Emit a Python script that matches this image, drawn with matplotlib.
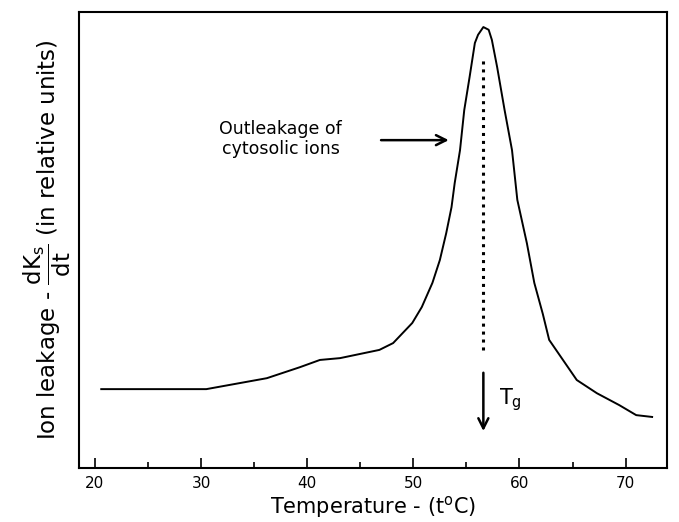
import matplotlib
matplotlib.use("Agg")
import matplotlib.pyplot as plt
from matplotlib.ticker import MultipleLocator, NullLocator

plt.rcParams['font.family'] = 'DejaVu Sans'
plt.rcParams['mathtext.fontset'] = 'dejavusans'

# temperature (deg C) and ion leakage (relative units)
temp = [20.6, 30.5, 36.2, 39.3, 41.2, 43.1, 46.8, 48.1, 49.9, 50.8, 51.8, 52.5,
        53.1, 53.6, 53.9, 54.4, 54.8, 55.3, 55.8, 56.1, 56.6, 57.1, 57.4, 57.9,
        58.6, 59.3, 59.8, 60.7, 61.4, 62.2, 62.8, 64.1, 65.4, 67.3, 69.4, 71.0, 72.5]
leak = [17.3, 17.3, 19.7, 22.1, 23.7, 24.1, 25.9, 27.4, 31.8, 35.3, 40.6, 45.6,
        51.5, 57.2, 62.5, 69.7, 78.5, 85.7, 93.2, 95.0, 96.7, 96.1, 93.9, 87.9,
        78.5, 69.7, 58.8, 49.3, 40.6, 33.8, 28.1, 23.7, 19.3, 16.4, 13.8, 11.6, 11.2]
t_g = 56.6

fig = plt.figure(figsize=(6.79, 5.22), dpi=100)
ax = fig.add_axes([0.1163, 0.1034, 0.866, 0.8736])

ax.plot(temp, leak, color='black', lw=1.4)

# dotted line under the peak and T_g arrow
ax.plot([t_g, t_g], [25.9, 89.5], color='black', lw=2.2, linestyle=(0, (1, 1.6)))
ax.annotate('', xy=(t_g, 7.5), xytext=(t_g, 21.5),
            arrowprops=dict(arrowstyle='->', color='black', lw=1.8, mutation_scale=18))
ax.text(58.1, 14.9, r'T$_\mathregular{g}$', fontsize=15, va='center', ha='left')

# outleakage label and arrow
ax.annotate('', xy=(53.6, 71.9), xytext=(46.7, 71.9),
            arrowprops=dict(arrowstyle='->', color='black', lw=1.8, mutation_scale=18))
ax.text(37.5, 72.2, 'Outleakage of\ncytosolic ions', fontsize=12.5,
        ha='center', va='center', linespacing=1.15)

ax.set_xlim(18.5, 73.9)
ax.set_ylim(0, 100)
ax.xaxis.set_major_locator(MultipleLocator(10))
ax.xaxis.set_minor_locator(MultipleLocator(5))
ax.yaxis.set_major_locator(NullLocator())
ax.tick_params(axis='x', which='major', direction='in', length=7, width=1.2,
               labelsize=11, pad=6)
ax.tick_params(axis='x', which='minor', direction='in', length=4, width=1.2)
for sp in ax.spines.values():
    sp.set_linewidth(1.5)

ax.set_xlabel(r'Temperature - (t$^\mathregular{o}$C)', fontsize=15, labelpad=2)
ax.set_ylabel(r'Ion leakage - $\dfrac{\mathregular{dK_s}}{\mathregular{dt}}$ (in relative units)',
              fontsize=16.5, labelpad=4)

fig.savefig('out.png', dpi=100)
